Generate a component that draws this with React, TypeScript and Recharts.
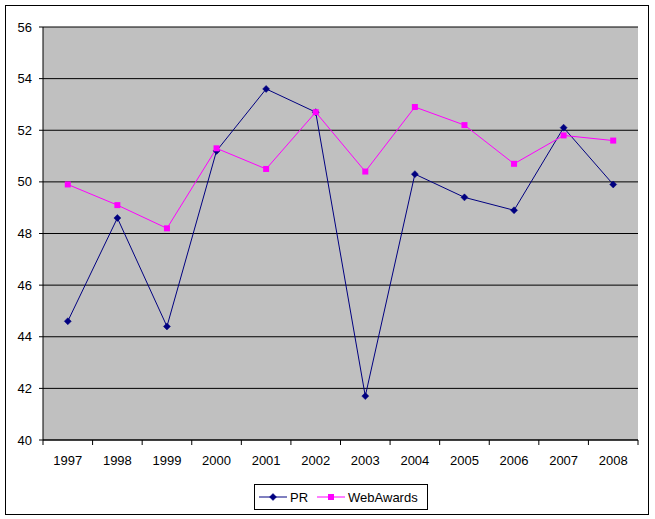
import React from 'react';
import { LineChart, Line, XAxis, YAxis, CartesianGrid, Legend } from 'recharts';

const years = ['1997', '1998', '1999', '2000', '2001', '2002', '2003', '2004', '2005', '2006', '2007', '2008'];
const prValues = [44.6, 48.6, 44.4, 51.2, 53.6, 52.7, 41.7, 50.3, 49.4, 48.9, 52.1, 49.9];
const webAwardsValues = [49.9, 49.1, 48.2, 51.3, 50.5, 52.7, 50.4, 52.9, 52.2, 50.7, 51.8, 51.6];
const yTicks = [40, 42, 44, 46, 48, 50, 52, 54, 56];

const data = years.map((year, i) => ({ year, PR: prValues[i], WebAwards: webAwardsValues[i] }));

const FONT = 'Arial, "Liberation Sans", sans-serif';
const NAVY = '#000080';
const MAGENTA = '#FF00FF';

const Diamond = (props: any) => {
  const { cx, cy, fill, size = 3.5 } = props;
  if (cx == null || cy == null) return null;
  return (
    <path
      d={`M${cx},${cy - size} L${cx + size},${cy} L${cx},${cy + size} L${cx - size},${cy} Z`}
      fill={fill}
      stroke={fill}
      strokeWidth={0.5}
    />
  );
};

const Square = (props: any) => {
  const { cx, cy, fill, size = 3 } = props;
  if (cx == null || cy == null) return null;
  return <rect x={cx - size} y={cy - size} width={size * 2} height={size * 2} fill={fill} />;
};

// Excel puts tick marks between categories, not under them
const YearTick = (props: any) => {
  const { x, y, payload, index, width, visibleTicksCount } = props;
  const bw = width / visibleTicksCount;
  const last = index === visibleTicksCount - 1;
  return (
    <g>
      <line x1={x - bw / 2} x2={x - bw / 2} y1={y} y2={y + 5} stroke="#000" />
      {last && <line x1={x + bw / 2} x2={x + bw / 2} y1={y} y2={y + 5} stroke="#000" />}
      <text x={x} y={y + 20} dy="0.355em" textAnchor="middle" fontFamily={FONT} fontSize={13} fill="#000">
        {payload.value}
      </text>
    </g>
  );
};

const LegendBox = () => (
  <div
    style={{
      boxSizing: 'border-box',
      width: 174,
      height: 26,
      border: '1px solid #000',
      background: '#fff',
      display: 'flex',
      alignItems: 'center',
      fontFamily: FONT,
      fontSize: 13,
      color: '#000',
      paddingLeft: 4,
    }}
  >
    <svg width={28} height={10} style={{ display: 'block' }}>
      <line x1={0} x2={28} y1={5} y2={5} stroke={NAVY} />
      <Diamond cx={14} cy={5} fill={NAVY} />
    </svg>
    <span style={{ marginLeft: 3 }}>PR</span>
    <svg width={28} height={10} style={{ display: 'block', marginLeft: 9 }}>
      <line x1={0} x2={28} y1={5} y2={5} stroke={MAGENTA} />
      <Square cx={14} cy={5} fill={MAGENTA} />
    </svg>
    <span style={{ marginLeft: 3 }}>WebAwards</span>
  </div>
);

export default function App() {
  return (
    <div style={{ position: 'absolute', left: 0, top: 0, width: 655, height: 519, background: '#fff' }}>
      <div
        style={{
          position: 'absolute',
          left: 5,
          top: 5,
          width: 644,
          height: 510,
          boxSizing: 'border-box',
          border: '1px solid #000',
        }}
      />
      <div style={{ position: 'absolute', left: 0, top: 0 }}>
        <LineChart width={655} height={519} data={data} margin={{ top: 27, right: 17, left: 0, bottom: 49 }}>
          <CartesianGrid vertical={false} fill="#C0C0C0" stroke="#000" fillOpacity={1} />
          <XAxis
            dataKey="year"
            scale="band"
            height={30}
            tickLine={false}
            tickSize={0}
            tickMargin={0}
            axisLine={{ stroke: '#000' }}
            tick={<YearTick />}
            interval={0}
          />
          <XAxis xAxisId="top" orientation="top" dataKey="year" height={0} tick={false} axisLine={{ stroke: '#808080' }} />
          <YAxis
            domain={[40, 56]}
            ticks={yTicks}
            width={43}
            tickSize={4}
            tickMargin={7}
            axisLine={{ stroke: '#000' }}
            tickLine={{ stroke: '#000' }}
            tick={{ fill: '#000', fontSize: 13, fontFamily: FONT }}
            interval={0}
          />
          <YAxis yAxisId="right" orientation="right" width={0} tick={false} axisLine={{ stroke: '#808080' }} domain={[40, 56]} />
          <Line
            type="linear"
            dataKey="PR"
            stroke={NAVY}
            strokeWidth={1}
            dot={<Diamond fill={NAVY} />}
            activeDot={false}
            isAnimationActive={false}
          />
          <Line
            type="linear"
            dataKey="WebAwards"
            stroke={MAGENTA}
            strokeWidth={1}
            dot={<Square fill={MAGENTA} />}
            activeDot={false}
            isAnimationActive={false}
          />
          <Legend
            layout="horizontal"
            verticalAlign="middle"
            align="center"
            wrapperStyle={{ top: 484, left: 254, width: 174, height: 26 }}
            content={<LegendBox />}
          />
        </LineChart>
      </div>
    </div>
  );
}
